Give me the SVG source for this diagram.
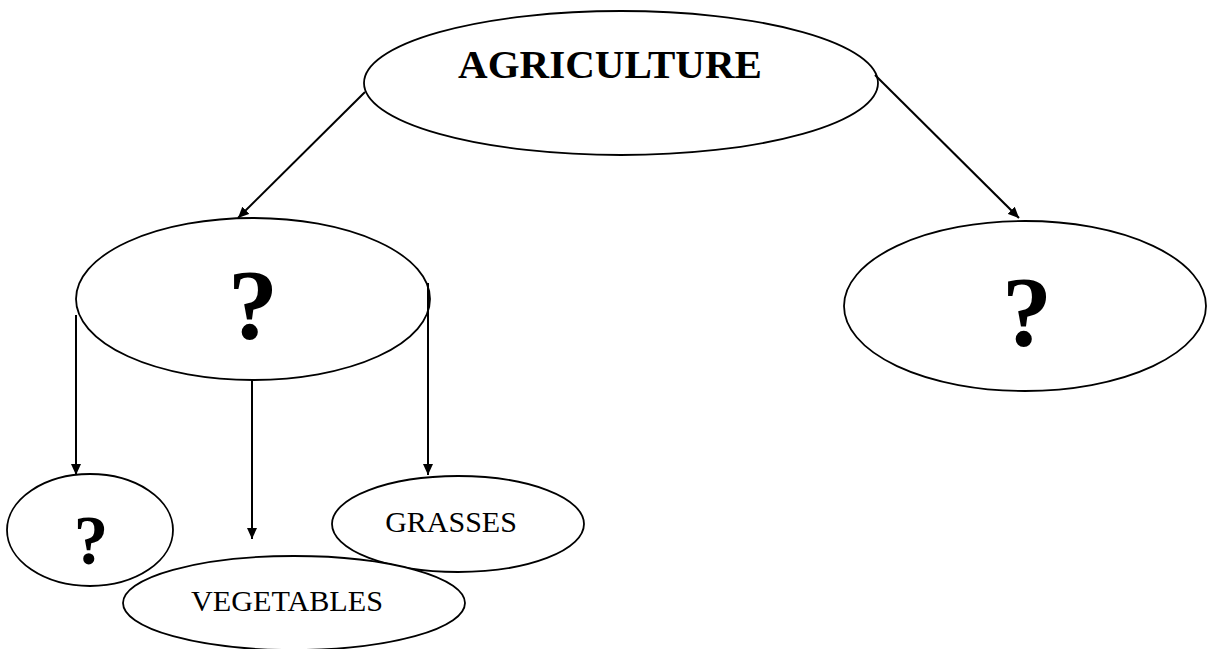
<svg xmlns="http://www.w3.org/2000/svg" width="1207" height="649" viewBox="0 0 1207 649">
<style>
.n{fill:#fff;stroke:#000;stroke-width:1.8}
.c{stroke:#000;stroke-width:2;fill:none;marker-end:url(#ah)}
.b{font-family:"Liberation Serif","Times New Roman",serif;font-weight:bold;fill:#000;text-anchor:middle}
.r{font-family:"Liberation Serif","Times New Roman",serif;fill:#000;text-anchor:middle}
</style>
<defs>
<marker id="ah" viewBox="0 0 11 10" refX="11" refY="5" markerWidth="11" markerHeight="10" markerUnits="userSpaceOnUse" orient="auto">
<path d="M0,0 L11,5 L0,10 Z" fill="#000"/>
</marker>
</defs>
<rect width="1207" height="649" fill="#fff"/>
<g id="n-agriculture">
<ellipse class="n" cx="621" cy="83" rx="257" ry="72"/>
<text class="b" x="610" y="78" font-size="41">AGRICULTURE</text>
</g>
<g id="n-left">
<ellipse class="n" cx="253" cy="299" rx="177" ry="81"/>
<text class="b" x="253" y="338" font-size="100">?</text>
</g>
<g id="n-right">
<ellipse class="n" cx="1025" cy="306" rx="181" ry="85"/>
<text class="b" x="1027" y="345" font-size="100">?</text>
</g>
<g id="n-small">
<ellipse class="n" cx="90" cy="530" rx="83" ry="56"/>
<text class="b" x="91" y="564" font-size="69">?</text>
</g>
<g id="n-grasses">
<ellipse class="n" cx="458" cy="524" rx="126" ry="48"/>
<text class="r" x="451" y="532" font-size="30">GRASSES</text>
</g>
<g id="n-vegetables">
<ellipse class="n" cx="294" cy="603" rx="171" ry="47"/>
<text class="r" x="287" y="611" font-size="30" textLength="192" lengthAdjust="spacingAndGlyphs">VEGETABLES</text>
</g>
<g id="connectors">
<line class="c" x1="365" y1="92" x2="238" y2="218"/>
<line class="c" x1="875" y1="75" x2="1019" y2="218"/>
<line class="c" x1="76" y1="315" x2="76" y2="475"/>
<line class="c" x1="252" y1="380" x2="252" y2="539"/>
<line class="c" x1="428" y1="283" x2="428" y2="475"/>
</g>
</svg>
